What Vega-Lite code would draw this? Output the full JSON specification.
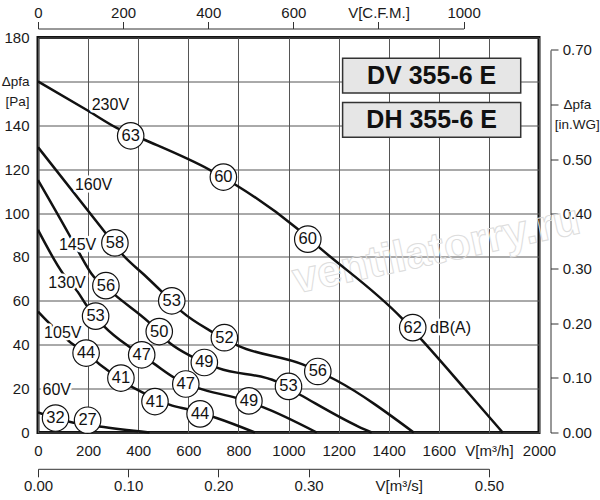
{
"$schema":"https://vega.github.io/schema/vega-lite/v6.json",
"width":501,"height":395,
"autosize":{"type":"none"},
"padding":{"left":38,"top":37.5,"right":61,"bottom":67.5},
"background":"white",
"config":{"view":{"stroke":"#111","strokeWidth":3,"fill":"white"},"font":"Liberation Sans","axis":{"labelFont":"Liberation Sans","labelFontSize":15,"labelColor":"#1a1a1a","domainColor":"#333","tickColor":"#333","domainWidth":1,"tickWidth":1,"labelFlush":false,"labelOverlap":false,"title":null}},
"datasets":{
"curves":[
{"v":"230V","q":0,"p":160},{"v":"230V","q":200,"p":146.6},{"v":"230V","q":316,"p":138.7},{"v":"230V","q":427,"p":133.3},{"v":"230V","q":687,"p":119.6},{"v":"230V","q":790,"p":112.8},{"v":"230V","q":1033,"p":93.1},{"v":"230V","q":1126,"p":84.0},{"v":"230V","q":1452,"p":52.1},{"v":"230V","q":1532,"p":42.2},{"v":"230V","q":1700,"p":20.4},{"v":"230V","q":1855,"p":0},
{"v":"160V","q":0,"p":130},{"v":"160V","q":265,"p":91.6},{"v":"160V","q":338,"p":81},{"v":"160V","q":431,"p":71.1},{"v":"160V","q":494,"p":64.2},{"v":"160V","q":574,"p":55.1},{"v":"160V","q":693,"p":46},{"v":"160V","q":800,"p":39.5},{"v":"160V","q":1059,"p":30.9},{"v":"160V","q":1190,"p":23.8},{"v":"160V","q":1500,"p":0},
{"v":"145V","q":0,"p":115},{"v":"145V","q":125,"p":90},{"v":"145V","q":165,"p":81.7},{"v":"145V","q":212,"p":72.6},{"v":"145V","q":307,"p":62.7},{"v":"145V","q":440,"p":50.5},{"v":"145V","q":527,"p":40.7},{"v":"145V","q":614,"p":34.6},{"v":"145V","q":720,"p":29.3},{"v":"145V","q":953,"p":23.2},{"v":"145V","q":1046,"p":17.2},{"v":"145V","q":1279,"p":2.7},{"v":"145V","q":1332,"p":0},
{"v":"130V","q":0,"p":92.3},{"v":"130V","q":98.6,"p":72.6},{"v":"130V","q":158,"p":64.2},{"v":"130V","q":192,"p":58.2},{"v":"130V","q":265,"p":48.3},{"v":"130V","q":371,"p":38.5},{"v":"130V","q":460,"p":31.6},{"v":"130V","q":547,"p":24.8},{"v":"130V","q":640,"p":20.2},{"v":"130V","q":793,"p":15.7},{"v":"130V","q":893,"p":11.8},{"v":"130V","q":1113,"p":0},
{"v":"105V","q":0,"p":55.1},{"v":"105V","q":45,"p":49.8},{"v":"105V","q":125,"p":41.5},{"v":"105V","q":152,"p":39.2},{"v":"105V","q":232,"p":32.3},{"v":"105V","q":285,"p":27.8},{"v":"105V","q":384,"p":20.2},{"v":"105V","q":424,"p":17.9},{"v":"105V","q":527,"p":12.6},{"v":"105V","q":607,"p":10.3},{"v":"105V","q":713,"p":6.6},{"v":"105V","q":866,"p":0},
{"v":"60V","q":0,"p":9.2},{"v":"60V","q":40,"p":7.6},{"v":"60V","q":125,"p":4.9},{"v":"60V","q":245,"p":2.7},{"v":"60V","q":445,"p":0}
],
"circles":[
{"db":"63","q":370,"p":135.2},{"db":"60","q":740,"p":116.4},{"db":"60","q":1077,"p":88.1},{"db":"62","q":1496,"p":47.8},
{"db":"58","q":307,"p":86.4},{"db":"53","q":534,"p":60.0},{"db":"52","q":744,"p":43.2},{"db":"56","q":1117,"p":27.8},
{"db":"56","q":271,"p":66.9},{"db":"50","q":484,"p":46.0},{"db":"49","q":664,"p":31.9},{"db":"53","q":1000,"p":21.0},
{"db":"53","q":230,"p":53.0},{"db":"47","q":414,"p":35.4},{"db":"47","q":590,"p":22.1},{"db":"49","q":842,"p":14.4},
{"db":"44","q":192,"p":36.2},{"db":"41","q":331,"p":24.8},{"db":"41","q":467,"p":14.1},{"db":"44","q":647,"p":8.5},
{"db":"32","q":70,"p":6.6},{"db":"27","q":198,"p":5.6}
],
"vlabels":[
{"t":"230V","q":289,"p":149.3},{"t":"160V","q":222,"p":112.8},{"t":"145V","q":158,"p":85.5},{"t":"130V","q":116,"p":68},{"t":"105V","q":99,"p":45.3},{"t":"60V","q":75,"p":19.5},{"t":"dB(A)","q":1647,"p":47.6}
],
"boxes":[
{"q":1216,"q2":1927,"p":154.7,"p2":170.6},{"q":1216,"q2":1927,"p":134.6,"p2":150.4}
],
"boxtext":[
{"t":"DV 355-6 E","q":1571.5,"p":162.4},{"t":"DH 355-6 E","q":1571.5,"p":142.3}
],
"wm":[{"t":"ventilatorry.ru","q":1591,"p":83}],
"cfm":[{"cfm":0,"inwg":0},{"cfm":1000,"inwg":0.7}],
"ms":[{"ms":0},{"ms":0.5}]
},
"layer":[
{
"encoding":{
"x":{"field":"q","type":"quantitative","scale":{"domain":[0,2000],"nice":false,"zero":false},"axis":{"orient":"bottom","values":[0,200,400,600,800,1000,1200,1400,1600,1800,2000],"format":"d","labelExpr":"datum.value == 1800 ? 'V[m³/h]' : datum.label","grid":true,"gridColor":"#555","gridWidth":1,"ticks":false,"tickSize":0,"domain":false,"labelPadding":11}},
"y":{"field":"p","type":"quantitative","scale":{"domain":[0,180],"nice":false,"zero":false},"axis":{"orient":"left","values":[0,20,40,60,80,100,120,140,160,180],"format":"d","labelExpr":"datum.value == 160 ? ['Δpfa','[Pa]'] : datum.label","labelFontSize":{"condition":{"test":"datum.value == 160","value":13.5},"value":15},"labelLineHeight":20,"grid":true,"gridColor":"#555","gridWidth":1,"ticks":false,"tickSize":0,"domain":false,"labelPadding":9}}
},
"layer":[
{"data":{"name":"wm"},"mark":{"type":"text","angle":-12,"fontSize":44,"fontWeight":"bold","fillOpacity":0,"stroke":"#dddddd","strokeWidth":1},"encoding":{"text":{"field":"t"}}},
{"data":{"name":"curves"},"mark":{"type":"line","interpolate":"monotone","strokeWidth":2.5,"color":"#111"},"encoding":{"detail":{"field":"v"},"order":{"field":"q","type":"quantitative"}}},
{"data":{"name":"circles"},"mark":{"type":"point","shape":"circle","filled":true,"fill":"white","stroke":"#111","strokeWidth":1.2,"size":700,"opacity":1}},
{"data":{"name":"circles"},"mark":{"type":"text","fontSize":16.5,"color":"#111"},"encoding":{"text":{"field":"db"}}},
{"data":{"name":"vlabels"},"mark":{"type":"text","fontSize":16,"stroke":"white","strokeWidth":5,"strokeJoin":"round","fill":"white"},"encoding":{"text":{"field":"t"}}},
{"data":{"name":"vlabels"},"mark":{"type":"text","fontSize":16,"color":"#111"},"encoding":{"text":{"field":"t"}}},
{"data":{"name":"boxes"},"mark":{"type":"rect","fill":"#e6e6e6","stroke":"#333","strokeWidth":1.5},"encoding":{"x2":{"field":"q2"},"y2":{"field":"p2"}}},
{"data":{"name":"boxtext"},"mark":{"type":"text","fontSize":25,"fontWeight":"bold","color":"#111"},"encoding":{"text":{"field":"t"}}}
]
},
{
"data":{"name":"cfm"},
"mark":{"type":"point","opacity":0},
"encoding":{
"x":{"field":"cfm","type":"quantitative","scale":{"domain":[0,1000],"range":[0,425.6],"nice":false,"zero":false},"axis":{"orient":"top","offset":9,"values":[0,200,400,600,800,1000],"format":"d","labelExpr":"datum.value == 800 ? 'V[C.F.M.]' : datum.label","tickSize":7,"labelPadding":1,"grid":false}},
"y":{"field":"inwg","type":"quantitative","scale":{"domain":[0,0.7],"range":[395,12.4],"nice":false,"zero":false},"axis":{"orient":"right","offset":11.5,"values":[0,0.1,0.2,0.3,0.4,0.5,0.6,0.7],"format":".2f","labelExpr":"abs(datum.value-0.6) < 0.001 ? ['Δpfa','[in.WG]'] : datum.label","labelFontSize":{"condition":{"test":"abs(datum.value-0.6) < 0.001","value":13.5},"value":15},"labelLineHeight":20,"labelAlign":"center","tickSize":7.5,"labelPadding":18.8,"grid":false}}
}
},
{
"data":{"name":"ms"},
"mark":{"type":"point","opacity":0},
"encoding":{
"x":{"field":"ms","type":"quantitative","scale":{"domain":[0,0.5],"range":[0,450.9],"nice":false,"zero":false},"axis":{"orient":"bottom","offset":36.3,"values":[0,0.1,0.2,0.3,0.4,0.5],"format":".2f","labelExpr":"abs(datum.value-0.4) < 0.001 ? 'V[m³/s]' : datum.label","tickSize":8,"labelPadding":2,"grid":false}}
}
}
],
"resolve":{"scale":{"x":"independent","y":"independent"},"axis":{"x":"independent","y":"independent"}}
}
